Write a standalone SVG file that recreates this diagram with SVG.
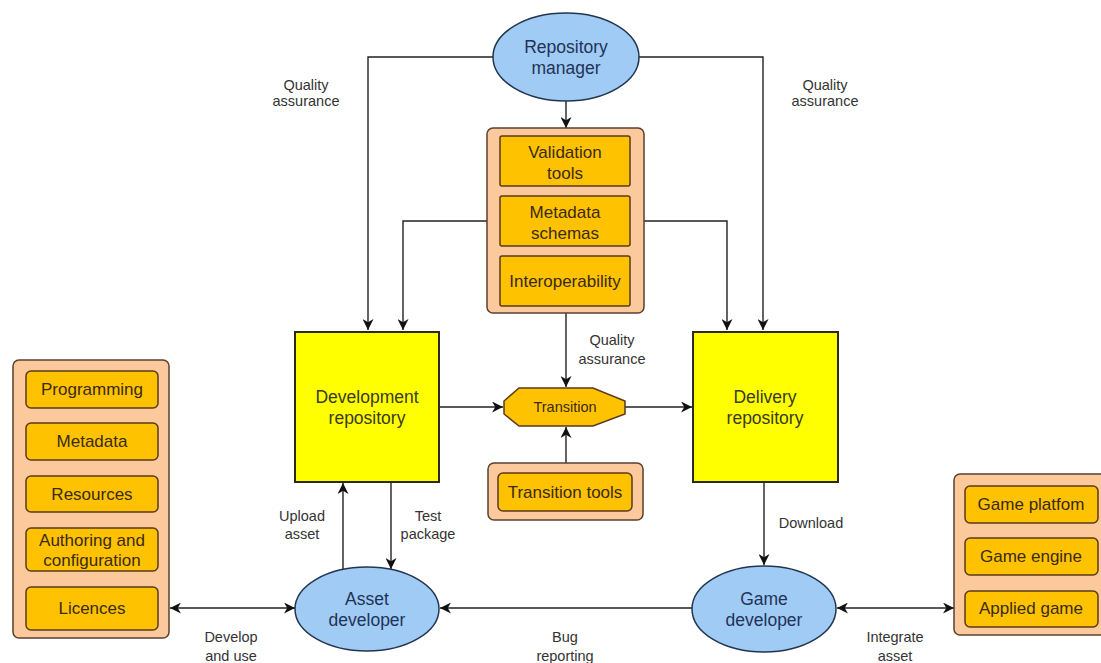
<svg xmlns="http://www.w3.org/2000/svg" width="1101" height="663" viewBox="0 0 1101 663">
  <defs>
    <marker id="arr" viewBox="0 0 10 10" refX="10" refY="5" markerWidth="11" markerHeight="11" markerUnits="userSpaceOnUse" orient="auto-start-reverse">
      <path d="M0,0 L10,5 L0,10 L3,5 Z" fill="#111"/>
    </marker>
    <style>
      .bg { fill: #ffffff; }
      .actor { fill: #9fcbf5; stroke: #23354f; stroke-width: 1.5; }
      .repo { fill: #ffff00; stroke: #2b2b1a; stroke-width: 2; }
      .group { fill: #fbc99b; stroke: #5a4030; stroke-width: 1.5; }
      .item { fill: #ffc200; stroke: #5a3a1a; stroke-width: 1.5; }
      .edge { fill: none; stroke: #222; stroke-width: 1.4; }
      text { font-family: "Liberation Sans", Arial, sans-serif; text-anchor: middle; }
      .t-actor { font-size: 17.5px; fill: #1f3358; }
      .t-repo { font-size: 17.5px; fill: #3a3a20; }
      .t-item { font-size: 17px; fill: #3a2a10; }
      .t-small { font-size: 14.5px; fill: #3a2a10; }
      .t-label { font-size: 14.5px; fill: #333; }
    </style>
  </defs>
  <rect class="bg" x="0" y="0" width="1101" height="663"/>

  <!-- connectors -->
  <g id="connectors">
    <path class="edge" d="M493,57 H368 V330" marker-end="url(#arr)"/>
    <path class="edge" d="M639,57 H763 V330" marker-end="url(#arr)"/>
    <path class="edge" d="M566,101 V128" marker-end="url(#arr)"/>
    <path class="edge" d="M487,221 H403 V330" marker-end="url(#arr)"/>
    <path class="edge" d="M644,221 H727 V330" marker-end="url(#arr)"/>
    <path class="edge" d="M566,313 V387" marker-end="url(#arr)"/>
    <path class="edge" d="M566,463 V427" marker-end="url(#arr)"/>
    <path class="edge" d="M439,407 H503" marker-end="url(#arr)"/>
    <path class="edge" d="M625,407 H692" marker-end="url(#arr)"/>
    <path class="edge" d="M343,569 V483" marker-end="url(#arr)"/>
    <path class="edge" d="M391,482 V569" marker-end="url(#arr)"/>
    <path class="edge" d="M764,482 V565" marker-end="url(#arr)"/>
    <path class="edge" d="M170,608 H295" marker-start="url(#arr)" marker-end="url(#arr)"/>
    <path class="edge" d="M692,608 H440" marker-end="url(#arr)"/>
    <path class="edge" d="M837,608 H954" marker-start="url(#arr)" marker-end="url(#arr)"/>

    <text class="t-label" x="306" y="90">Quality</text>
    <text class="t-label" x="306" y="106">assurance</text>
    <text class="t-label" x="825" y="90">Quality</text>
    <text class="t-label" x="825" y="106">assurance</text>
    <text class="t-label" x="612" y="345">Quality</text>
    <text class="t-label" x="612" y="364">assurance</text>
    <text class="t-label" x="302" y="521">Upload</text>
    <text class="t-label" x="302" y="539">asset</text>
    <text class="t-label" x="428" y="521">Test</text>
    <text class="t-label" x="428" y="539">package</text>
    <text class="t-label" x="811" y="528">Download</text>
    <text class="t-label" x="231" y="642">Develop</text>
    <text class="t-label" x="231" y="661">and use</text>
    <text class="t-label" x="565" y="642">Bug</text>
    <text class="t-label" x="565" y="661">reporting</text>
    <text class="t-label" x="895" y="642">Integrate</text>
    <text class="t-label" x="895" y="661">asset</text>
  </g>

  <g id="repository-manager">
    <ellipse class="actor" cx="566" cy="57" rx="73" ry="44"/>
    <text class="t-actor" x="566" y="53">Repository</text>
    <text class="t-actor" x="566" y="74">manager</text>
  </g>

  <g id="repository-tools">
    <rect class="group" x="487" y="128" width="157" height="185" rx="6"/>
    <rect class="item" x="500" y="136" width="130" height="50" rx="2"/>
    <text class="t-item" x="565" y="158">Validation</text>
    <text class="t-item" x="565" y="179">tools</text>
    <rect class="item" x="500" y="196" width="130" height="50" rx="2"/>
    <text class="t-item" x="565" y="218">Metadata</text>
    <text class="t-item" x="565" y="239">schemas</text>
    <rect class="item" x="500" y="256" width="130" height="50" rx="2"/>
    <text class="t-item" x="565" y="287">Interoperability</text>
  </g>

  <g id="development-repository">
    <rect class="repo" x="295" y="332" width="144" height="150"/>
    <text class="t-repo" x="367" y="403">Development</text>
    <text class="t-repo" x="367" y="424">repository</text>
  </g>

  <g id="delivery-repository">
    <rect class="repo" x="693" y="332" width="145" height="150"/>
    <text class="t-repo" x="765" y="403">Delivery</text>
    <text class="t-repo" x="765" y="424">repository</text>
  </g>

  <g id="transition">
    <polygon class="item" points="519,388 593,388 625,401 625,414 593,426 519,426 504,414 504,401"/>
    <text class="t-small" x="565" y="412">Transition</text>
  </g>

  <g id="transition-tools">
    <rect class="group" x="488" y="463" width="155" height="57" rx="6"/>
    <rect class="item" x="498" y="473" width="134" height="38" rx="5"/>
    <text class="t-item" x="565" y="498">Transition tools</text>
  </g>

  <g id="asset-components">
    <rect class="group" x="13" y="360" width="156" height="278" rx="6"/>
    <rect class="item" x="26" y="371" width="132" height="37" rx="5"/>
    <text class="t-item" x="92" y="395">Programming</text>
    <rect class="item" x="26" y="423" width="132" height="37" rx="5"/>
    <text class="t-item" x="92" y="447">Metadata</text>
    <rect class="item" x="26" y="476" width="132" height="36" rx="5"/>
    <text class="t-item" x="92" y="500">Resources</text>
    <rect class="item" x="26" y="528" width="132" height="43" rx="5"/>
    <text class="t-item" x="92" y="546">Authoring and</text>
    <text class="t-item" x="92" y="566">configuration</text>
    <rect class="item" x="26" y="587" width="132" height="43" rx="5"/>
    <text class="t-item" x="92" y="614">Licences</text>
  </g>

  <g id="game-components">
    <rect class="group" x="954" y="474" width="160" height="161" rx="6"/>
    <rect class="item" x="965" y="486" width="133" height="37" rx="5"/>
    <text class="t-item" x="1031" y="510">Game platfom</text>
    <rect class="item" x="965" y="538" width="133" height="37" rx="5"/>
    <text class="t-item" x="1031" y="562">Game engine</text>
    <rect class="item" x="965" y="591" width="133" height="36" rx="5"/>
    <text class="t-item" x="1031" y="614">Applied game</text>
  </g>

  <g id="asset-developer">
    <ellipse class="actor" cx="367" cy="609" rx="72" ry="42"/>
    <text class="t-actor" x="367" y="605">Asset</text>
    <text class="t-actor" x="367" y="626">developer</text>
  </g>

  <g id="game-developer">
    <ellipse class="actor" cx="764" cy="609" rx="72" ry="43"/>
    <text class="t-actor" x="764" y="605">Game</text>
    <text class="t-actor" x="764" y="626">developer</text>
  </g>
</svg>
